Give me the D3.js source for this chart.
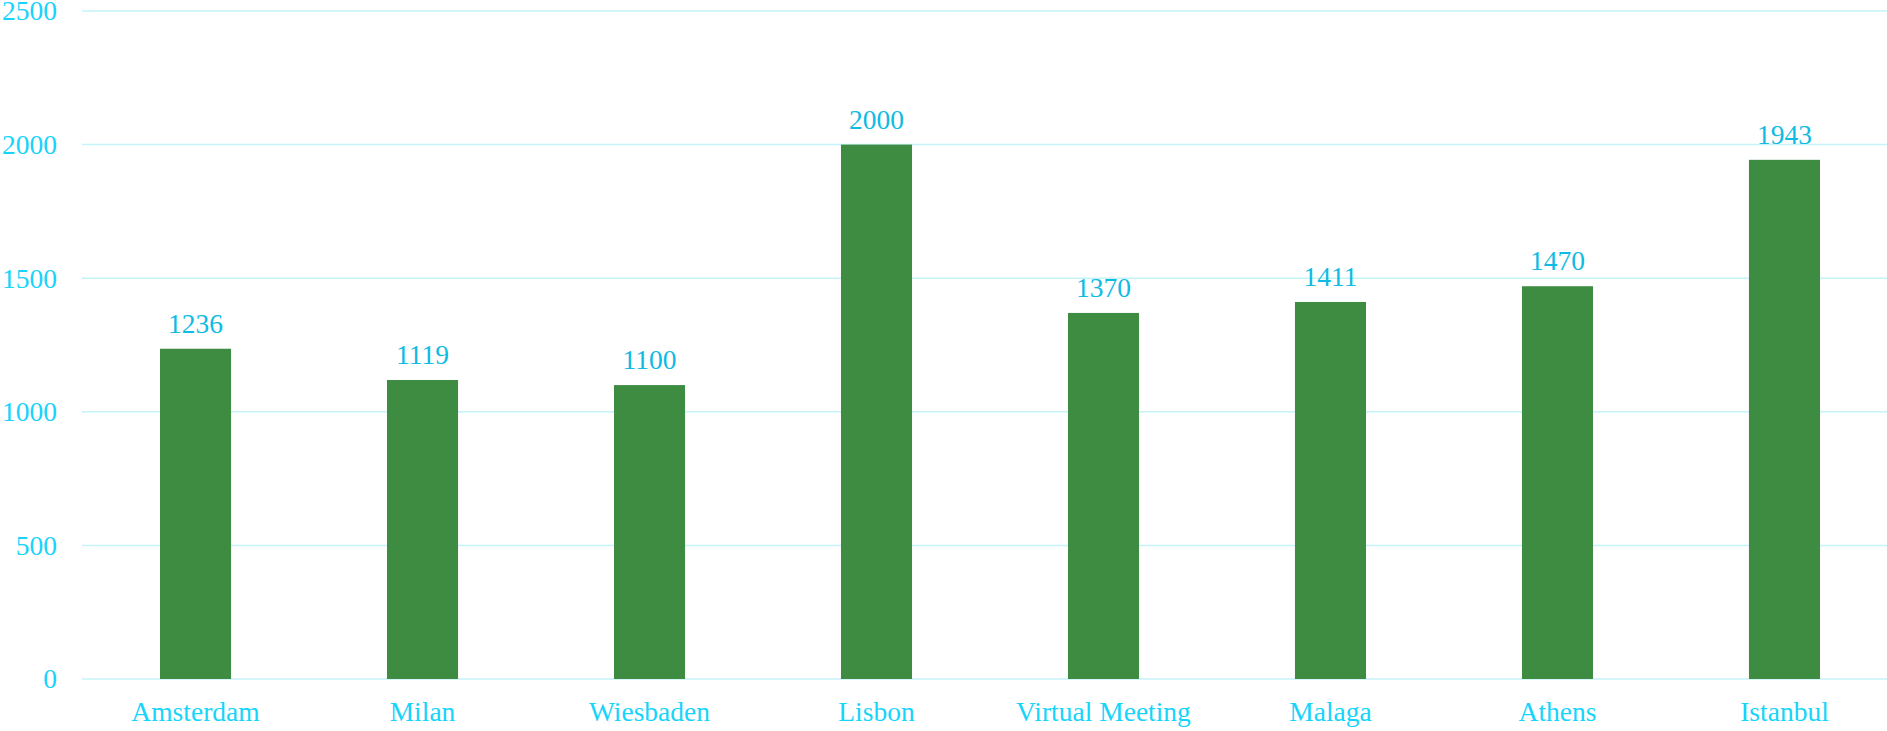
<!DOCTYPE html>
<meta charset="utf-8">

<style>

body {
  margin: 0;
  background: #fff;
}

.grid line {
  stroke: #c6f3fa;
  stroke-width: 1.5px;
}

.tick-label {
  fill: #17d4fb;
  font-family: "Liberation Serif", "DejaVu Serif", serif;
  font-size: 27.5px;
}

.value-label {
  fill: #0fbbe3;
  font-family: "Liberation Serif", "DejaVu Serif", serif;
  font-size: 27.5px;
}

.bar {
  fill: #3d8c41;
}

</style>

<body>

<svg id="chart" width="1887" height="731"></svg>

<script src="https://d3js.org/d3.v7.min.js"></script>
<script>

const cities = ["Amsterdam", "Milan", "Wiesbaden", "Lisbon", "Virtual Meeting", "Malaga", "Athens", "Istanbul"]
const values = [1236, 1119, 1100, 2000, 1370, 1411, 1470, 1943]
const yTicks = [0, 500, 1000, 1500, 2000, 2500]

const width = 1887
const height = 731

const svg = d3.select("#chart")

const x = d3.scaleBand()
    .domain(cities)
    .range([82, 1898])
    .paddingInner(0.687)
    .paddingOuter(0.3436)

const y = d3.scaleLinear()
    .domain([0, 2500])
    .range([679, 11])

// gridlines
svg.append("g")
    .attr("class", "grid")
  .selectAll("line")
  .data(yTicks)
  .join("line")
    .attr("x1", 82)
    .attr("x2", width)
    .attr("y1", d => y(d))
    .attr("y2", d => y(d))

// y tick labels
svg.append("g")
  .selectAll("text")
  .data(yTicks)
  .join("text")
    .attr("class", "tick-label")
    .attr("x", 57)
    .attr("y", d => y(d))
    .attr("dy", "0.34em")
    .attr("text-anchor", "end")
    .text(d => d)

// bars
svg.append("g")
  .selectAll("rect")
  .data(cities)
  .join("rect")
    .attr("class", "bar")
    .attr("x", d => x(d))
    .attr("width", x.bandwidth())
    .attr("y", (d, i) => y(values[i]))
    .attr("height", (d, i) => y(0) - y(values[i]))

// value labels
svg.append("g")
  .selectAll("text")
  .data(cities)
  .join("text")
    .attr("class", "value-label")
    .attr("x", d => x(d) + x.bandwidth() / 2)
    .attr("y", (d, i) => y(values[i]) - 16)
    .attr("text-anchor", "middle")
    .text((d, i) => values[i])

// category labels
svg.append("g")
  .selectAll("text")
  .data(cities)
  .join("text")
    .attr("class", "tick-label")
    .attr("x", d => x(d) + x.bandwidth() / 2)
    .attr("y", 721)
    .attr("text-anchor", "middle")
    .text(d => d)

</script>
